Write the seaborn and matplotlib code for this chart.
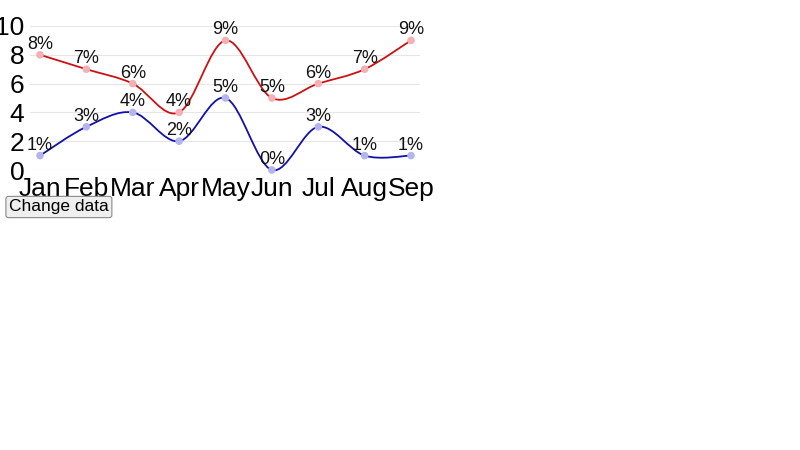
import numpy as np
import pandas as pd
import matplotlib
matplotlib.use("Agg")
import matplotlib.pyplot as plt
from matplotlib.path import Path
from matplotlib.patches import PathPatch
import seaborn as sns

# dados
meses = ['Jan', 'Feb', 'Mar', 'Apr', 'May', 'Jun', 'Jul', 'Aug', 'Sep']
serie_vermelha = [8, 7, 6, 4, 9, 5, 6, 7, 9]
serie_azul = [1, 3, 4, 2, 5, 0, 3, 1, 1]

sns.set_style("white")
plt.rcParams['font.family'] = ['Liberation Sans', 'DejaVu Sans']

fig = plt.figure(figsize=(8, 4.5), dpi=100)
ax = fig.add_axes([30 / 800, 1 - 170 / 450, 390 / 800, 144 / 450])

x = np.arange(len(meses))


def curva_suave(xs, ys):
    # catmull-rom convertido em bezier cubica
    pts = np.column_stack([xs, ys]).astype(float)
    ext = np.vstack([pts[0], pts, pts[-1]])
    verts = [pts[0]]
    codes = [Path.MOVETO]
    for i in range(1, len(ext) - 2):
        p0, p1, p2, p3 = ext[i - 1], ext[i], ext[i + 1], ext[i + 2]
        c1 = p1 + (p2 - p0) / 6
        c2 = p2 - (p3 - p1) / 6
        verts += [c1, c2, p2]
        codes += [Path.CURVE4] * 3
    return Path(verts, codes)


series = [
    (serie_vermelha, '#cc1111', '#f4b0b4'),
    (serie_azul, '#1111aa', '#b4b4ee'),
]

for valores, cor_linha, cor_ponto in series:
    ax.add_patch(PathPatch(curva_suave(x, valores), facecolor='none',
                           edgecolor=cor_linha, lw=1.3, zorder=2, clip_on=False))
    df = pd.DataFrame({'mes': x, 'valor': valores})
    sns.scatterplot(data=df, x='mes', y='valor', color=cor_ponto, s=30,
                    edgecolor='none', zorder=3, ax=ax, clip_on=False)
    for xi, v in zip(x, valores):
        ax.annotate(f'{v}%', (xi, v), xytext=(0, 1.5), textcoords='offset points',
                    ha='center', va='bottom', fontsize=13, color='#111111', zorder=4)

ax.set_xlim(-10 / 46.4, 8 + 9 / 46.4)
ax.set_ylim(0, 10)
ax.set_yticks([0, 2, 4, 6, 8, 10])
ax.set_xticks(x)
ax.set_xticklabels(meses)
ax.tick_params(axis='both', length=0, labelsize=19, colors='black')
ax.tick_params(axis='x', pad=5)
ax.tick_params(axis='y', pad=4)
ax.grid(axis='y', color='#e6e6e6', lw=0.8)
ax.set_xlabel('')
ax.set_ylabel('')
sns.despine(ax=ax, left=True, bottom=True)

fig.text(9 / 800, 1 - 207 / 450, 'Change data', ha='left', va='center', fontsize=12.5,
         color='black',
         bbox=dict(boxstyle='round,pad=0.18,rounding_size=0.15', facecolor='#efefef',
                   edgecolor='#8a8a8a', lw=0.8))

fig.savefig('out.png', dpi=100)
